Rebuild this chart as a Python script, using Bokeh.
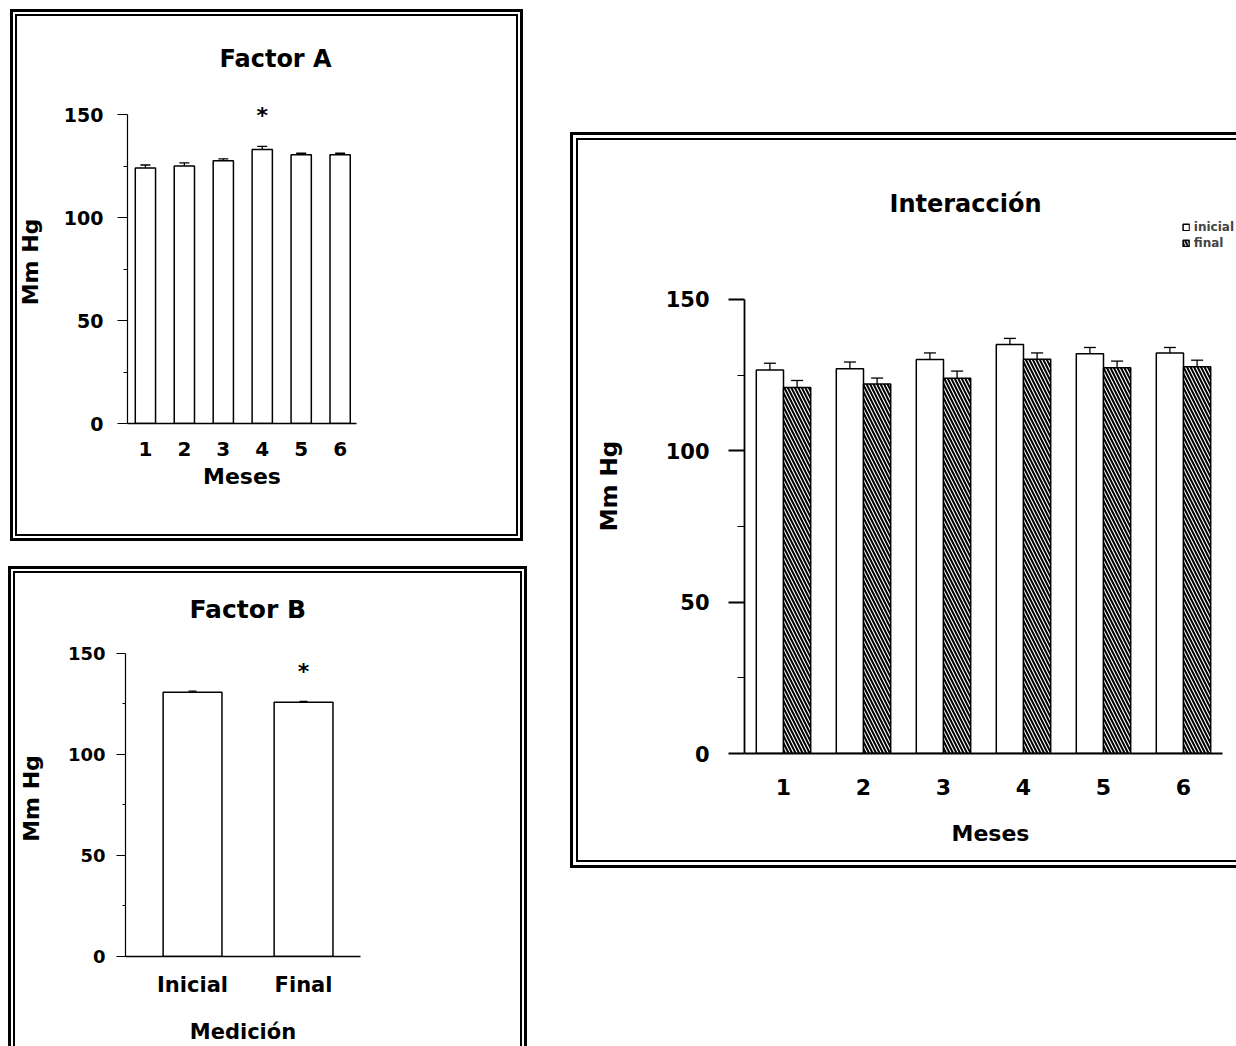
from bokeh.plotting import figure
from bokeh.models import (Range1d, FixedTicker, Whisker, ColumnDataSource, TeeHead,
                          Legend, LegendItem)
from bokeh.layouts import row, column
from bokeh.transform import dodge
from bokeh.embed import file_html
from bokeh.resources import INLINE
from bokeh.core.properties import value

FONT = "DejaVu Sans"

# ---------------- data ----------------
meses = [1, 2, 3, 4, 5, 6]
meses_labels = ["1", "2", "3", "4", "5", "6"]
factor_a_mean = [124.0, 125.0, 127.5, 133.0, 130.5, 130.5]
factor_a_err = [1.5, 1.5, 1.0, 1.5, 0.7, 0.7]
factor_a_sig = [False, False, False, True, False, False]

medicion_pos = [1, 2]
medicion_labels = ["Inicial", "Final"]
factor_b_mean = [130.8, 125.8]
factor_b_err = [0.5, 0.5]
factor_b_sig = [False, True]

inter_inicial = [126.7, 127.1, 130.1, 135.1, 132.0, 132.3]
inter_inicial_err = [2.2, 2.2, 2.2, 2.0, 2.1, 1.8]
inter_final = [120.9, 122.0, 123.9, 130.2, 127.4, 127.7]
inter_final_err = [2.3, 2.0, 2.4, 2.1, 2.2, 2.2]
serie_labels = ["inicial", "final"]

y_ticks = [0, 50, 100, 150]
y_minor = [25, 75, 125]
STAR_OFFSET = 15.0


def frame_css(sides, outer=3, gap=2, inner=2):
    blacks, whites, inners = [], [], []
    for s in sides:
        def sh(d):
            if s == "top":
                return f"inset 0 {d}px 0 0"
            if s == "bottom":
                return f"inset 0 -{d}px 0 0"
            if s == "left":
                return f"inset {d}px 0 0 0"
            return f"inset -{d}px 0 0 0"
        blacks.append(sh(outer) + " #000")
        whites.append(sh(outer + gap) + " #fff")
        inners.append(sh(outer + gap + inner) + " #000")
    return {"box-shadow": ", ".join(blacks + whites + inners),
            "background-color": "#ffffff"}


def style_title(p, text, size, offset, standoff):
    p.title.text = text
    p.title.align = "left"
    p.title.offset = offset
    p.title.standoff = standoff
    p.title.text_font = FONT
    p.title.text_font_size = size
    p.title.text_font_style = "bold"
    p.title.text_color = "black"


def style_axes(p, ylab_size, ylab_standoff, ytick_out, yaxis_label_size, yaxis_label_standoff,
               xlab_size, xlab_standoff, xaxis_label, xaxis_label_size, xaxis_label_standoff,
               xticks, xlabels, xbounds=None, ywidth=1.2, xwidth=1.5):
    p.xgrid.visible = False
    p.ygrid.visible = False
    ya = p.yaxis[0]
    ya.ticker = FixedTicker(ticks=y_ticks, minor_ticks=y_minor)
    ya.bounds = (0, 150)
    ya.axis_line_width = ywidth
    ya.major_tick_out = ytick_out
    ya.major_tick_in = 0
    ya.minor_tick_out = max(3, ytick_out // 2 - 1)
    ya.minor_tick_in = 0
    ya.major_tick_line_width = ywidth
    ya.major_label_text_font = FONT
    ya.major_label_text_font_size = ylab_size
    ya.major_label_text_font_style = "bold"
    ya.major_label_text_color = "black"
    ya.major_label_standoff = ylab_standoff
    ya.axis_label = "Mm Hg"
    ya.axis_label_text_font = FONT
    ya.axis_label_text_font_size = yaxis_label_size
    ya.axis_label_text_font_style = "bold"
    ya.axis_label_text_color = "black"
    ya.axis_label_standoff = yaxis_label_standoff

    xa = p.xaxis[0]
    xa.ticker = FixedTicker(ticks=xticks)
    xa.major_label_overrides = {t: l for t, l in zip(xticks, xlabels)}
    xa.major_tick_line_color = None
    xa.minor_tick_line_color = None
    xa.axis_line_width = xwidth
    if xbounds is not None:
        xa.bounds = xbounds
    xa.major_label_text_font = FONT
    xa.major_label_text_font_size = xlab_size
    xa.major_label_text_font_style = "bold"
    xa.major_label_text_color = "black"
    xa.major_label_standoff = xlab_standoff
    xa.axis_label = xaxis_label
    xa.axis_label_text_font = FONT
    xa.axis_label_text_font_size = xaxis_label_size
    xa.axis_label_text_font_style = "bold"
    xa.axis_label_text_color = "black"
    xa.axis_label_standoff = xaxis_label_standoff


def add_errors(p, xs, means, errs, head):
    src = ColumnDataSource(dict(x=xs, lower=means,
                                upper=[m + e for m, e in zip(means, errs)]))
    w = Whisker(base="x", lower="lower", upper="upper", source=src,
                upper_head=TeeHead(size=head, line_width=1.3, line_color="black"),
                lower_head=None, line_width=1.3, line_color="black", level="glyph")
    p.add_layout(w)


def add_stars(p, xs, means, errs, sig):
    sx = [x for x, s in zip(xs, sig) if s]
    sy = [m + e + STAR_OFFSET for m, e, s in zip(means, errs, sig) if s]
    p.text(x=sx, y=sy, text=["*"] * len(sx), text_font=value(FONT),
           text_font_size="22px", text_font_style="bold", text_align="center",
           text_baseline="middle", text_color="black")


common = dict(output_backend="svg", toolbar_location=None,
              background_fill_color=None, border_fill_color=None,
              outline_line_color=None)

# ---------------- Factor A ----------------
pA = figure(width=513, height=532, x_range=Range1d(0.54, 6.42), y_range=Range1d(0, 156.8),
            min_border_left=117, min_border_right=76, min_border_top=91, min_border_bottom=118,
            margin=(9, 0, 0, 10), styles=frame_css(["top", "bottom", "left", "right"]), **common)
style_title(pA, "Factor A", "24px", 92, 55)
style_axes(pA, "19px", 14, 10, "22px", 18, "20px", 12, "Meses", "22px", 5,
           meses, meses_labels)
pA.vbar(x=meses, top=factor_a_mean, width=0.52, fill_color="white",
        line_color="black", line_width=1.5)
add_errors(pA, meses, factor_a_mean, factor_a_err, 10)
add_stars(pA, meses, factor_a_mean, factor_a_err, factor_a_sig)

# ---------------- Factor B ----------------
pB = figure(width=519, height=480, x_range=Range1d(0.396, 2.513), y_range=Range1d(0, 156.4),
            min_border_left=117, min_border_right=167, min_border_top=74, min_border_bottom=90,
            margin=(25, 0, 0, 8), styles=frame_css(["top", "left", "right"]), **common)
style_title(pB, "Factor B", "25px", 64, 33)
style_axes(pB, "18px", 11, 9, "22px", 21, "21px", 10, "Medición", "21px", 20,
           medicion_pos, medicion_labels)
pB.vbar(x=medicion_pos, top=factor_b_mean, width=0.53, fill_color="white",
        line_color="black", line_width=1.5)
add_errors(pB, medicion_pos, factor_b_mean, factor_b_err, 8)
add_stars(pB, medicion_pos, factor_b_mean, factor_b_err, factor_b_sig)

# ---------------- Interacción ----------------
pI = figure(width=666, height=736, x_range=Range1d(0.5125, 6.6625), y_range=Range1d(0, 176.7),
            min_border_left=174, min_border_right=0, min_border_top=86, min_border_bottom=115,
            margin=(132, 0, 0, 43), styles=frame_css(["top", "bottom", "left"], 3, 3, 2),
            **common)
style_title(pI, "Interacción", "24px", 145, 2)
style_axes(pI, "21px", 19, 16, "23px", 41, "22px", 19, "Meses", "22px", 23,
           meses, meses_labels, xbounds=(0.5125, 6.49), ywidth=1.8, xwidth=1.8)
srcI = ColumnDataSource(dict(x=meses, ini=inter_inicial, fin=inter_final))
r_ini = pI.vbar(x=dodge("x", -0.17), top="ini", width=0.34, source=srcI,
                fill_color="white", line_color="black", line_width=1.5)
r_fin = pI.vbar(x=dodge("x", 0.17), top="fin", width=0.34, source=srcI,
                fill_color="white", line_color="black", line_width=1.5,
                hatch_pattern="\\", hatch_color="black", hatch_weight=2.0, hatch_scale=7)
add_errors(pI, [m - 0.17 for m in meses], inter_inicial, inter_inicial_err, 12)
add_errors(pI, [m + 0.17 for m in meses], inter_final, inter_final_err, 12)

legend = Legend(items=[LegendItem(label=serie_labels[0], renderers=[r_ini]),
                       LegendItem(label=serie_labels[1], renderers=[r_fin])],
                location="top_right", margin=2, padding=2, spacing=2,
                glyph_width=8, glyph_height=8, label_height=13, label_standoff=4,
                label_text_font=FONT, label_text_font_size="12px",
                label_text_font_style="bold", border_line_color=None,
                background_fill_alpha=0)
pI.add_layout(legend)

layout = row(column(pA, pB), pI)
open("out.html", "w").write(file_html(layout, INLINE))
